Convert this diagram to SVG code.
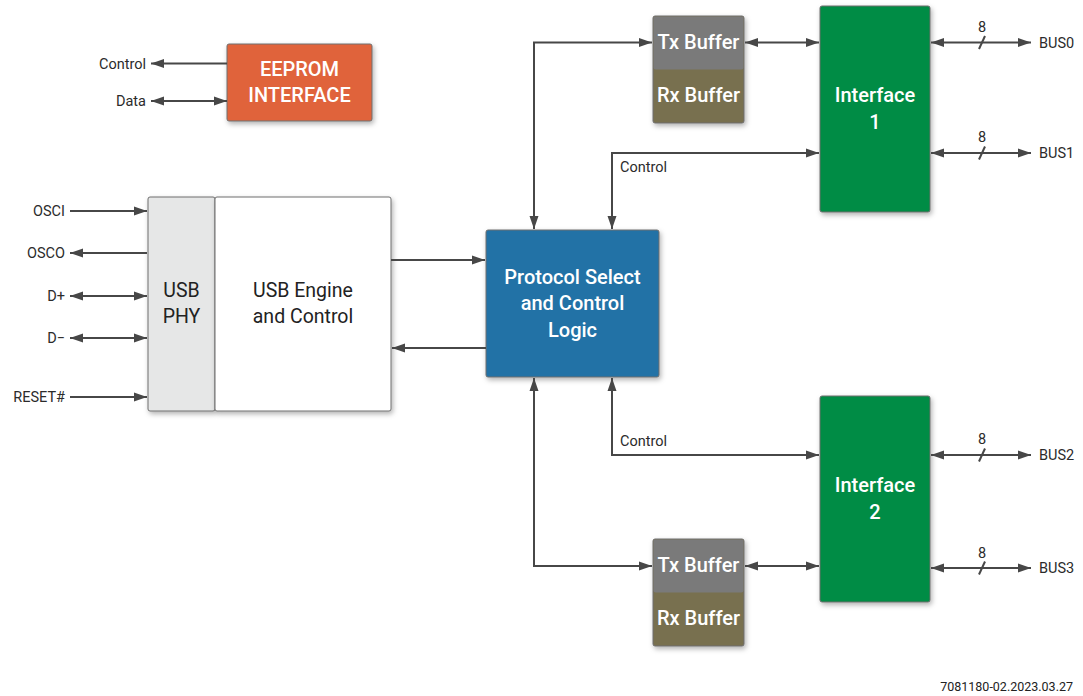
<svg xmlns="http://www.w3.org/2000/svg" width="1083" height="696" viewBox="0 0 1083 696">
  <style>
    .wire { fill: none; stroke: #474747; stroke-width: 2; }
    .lbl { font-family: Roboto, "Liberation Sans", sans-serif; font-size: 14.5px; fill: #2b2b2b; }
    .box { stroke: #6f6f6f; stroke-width: 1; filter: url(#shadow); }
    .btxt { font-family: Roboto, "Liberation Sans", sans-serif; font-size: 20px; font-weight: 500; fill: #ffffff; text-anchor: middle; }
    .dtxt { font-family: Roboto, "Liberation Sans", sans-serif; font-size: 19.5px; fill: #222222; text-anchor: middle; }
    .note { font-family: Roboto, "Liberation Sans", sans-serif; font-size: 12.5px; fill: #222222; }
  </style>
  <defs>
    <filter id="shadow" x="-20%" y="-20%" width="140%" height="140%">
      <feDropShadow dx="1.5" dy="2.5" stdDeviation="2.5" flood-color="#000" flood-opacity="0.3"/>
    </filter>
    <marker id="ah" markerUnits="userSpaceOnUse" markerWidth="14" markerHeight="10" refX="13" refY="5" orient="auto-start-reverse">
      <path d="M0,0.5 L13,5 L0,9.5 z" fill="#474747"/>
    </marker>
  </defs>

  <rect width="1083" height="696" fill="#ffffff"/>

  <!-- EEPROM interface -->
  <g id="eeprom">
    <rect class="box" x="227" y="44" width="145" height="77" rx="2" fill="#E0643A"/>
    <text class="btxt" x="299.5" y="76">EEPROM</text>
    <text class="btxt" x="299.5" y="102">INTERFACE</text>
  </g>

  <!-- USB PHY -->
  <g id="usb-phy">
    <rect class="box" x="148" y="197" width="67" height="214" rx="2" fill="#E6E7E7"/>
    <text class="dtxt" x="181.5" y="297">USB</text>
    <text class="dtxt" x="181.5" y="323">PHY</text>
  </g>

  <!-- USB engine -->
  <g id="usb-engine">
    <rect class="box" x="215" y="197" width="176" height="214" rx="2" fill="#ffffff"/>
    <text class="dtxt" x="303" y="297">USB Engine</text>
    <text class="dtxt" x="303" y="323">and Control</text>
  </g>

  <!-- Protocol select logic -->
  <g id="protocol">
    <rect class="box" x="486" y="230" width="173" height="147" rx="2" fill="#2372A6"/>
    <text class="btxt" x="572.5" y="284">Protocol Select</text>
    <text class="btxt" x="572.5" y="310">and Control</text>
    <text class="btxt" x="572.5" y="337">Logic</text>
  </g>

  <!-- Buffers for interface 1 -->
  <g id="buffers1">
    <rect class="box" x="653" y="16" width="91" height="107" rx="2" fill="#786F50"/>
    <rect x="653.5" y="16.5" width="90" height="53" rx="2" fill="#7A7A7A"/>
    <text class="btxt" x="698.5" y="49">Tx Buffer</text>
    <text class="btxt" x="698.5" y="102">Rx Buffer</text>
  </g>

  <!-- Buffers for interface 2 -->
  <g id="buffers2">
    <rect class="box" x="653" y="539" width="91" height="107" rx="2" fill="#786F50"/>
    <rect x="653.5" y="539.5" width="90" height="53" rx="2" fill="#7A7A7A"/>
    <text class="btxt" x="698.5" y="572">Tx Buffer</text>
    <text class="btxt" x="698.5" y="625">Rx Buffer</text>
  </g>

  <!-- Interface 1 -->
  <g id="interface1">
    <rect class="box" x="820" y="6" width="110" height="206" rx="2" fill="#008C44"/>
    <text class="btxt" x="875" y="102">Interface</text>
    <text class="btxt" x="875" y="129">1</text>
  </g>

  <!-- Interface 2 -->
  <g id="interface2">
    <rect class="box" x="820" y="396" width="110" height="206" rx="2" fill="#008C44"/>
    <text class="btxt" x="875" y="492">Interface</text>
    <text class="btxt" x="875" y="519">2</text>
  </g>

  <!-- Connectors -->
  <g id="connectors">
    <!-- EEPROM signals -->
    <line class="wire" x1="227" y1="63.5" x2="151" y2="63.5" marker-end="url(#ah)"/>
    <line class="wire" x1="151" y1="101" x2="227" y2="101" marker-start="url(#ah)" marker-end="url(#ah)"/>
    <!-- USB PHY pins -->
    <line class="wire" x1="70" y1="211" x2="147" y2="211" marker-end="url(#ah)"/>
    <line class="wire" x1="147" y1="253" x2="70" y2="253" marker-end="url(#ah)"/>
    <line class="wire" x1="70" y1="296" x2="147" y2="296" marker-start="url(#ah)" marker-end="url(#ah)"/>
    <line class="wire" x1="70" y1="338" x2="147" y2="338" marker-start="url(#ah)" marker-end="url(#ah)"/>
    <line class="wire" x1="70" y1="397" x2="147" y2="397" marker-end="url(#ah)"/>
    <!-- engine <-> protocol -->
    <line class="wire" x1="391" y1="260" x2="485" y2="260" marker-end="url(#ah)"/>
    <line class="wire" x1="486" y1="348" x2="392" y2="348" marker-end="url(#ah)"/>
    <!-- protocol <-> Tx buffer 1 -->
    <polyline class="wire" points="534,229 534,42.5 652,42.5" marker-start="url(#ah)" marker-end="url(#ah)"/>
    <!-- control to interface 1 -->
    <polyline class="wire" points="612,229 612,153 819,153" marker-start="url(#ah)" marker-end="url(#ah)"/>
    <!-- Tx buffer 1 <-> interface 1 -->
    <line class="wire" x1="745" y1="42.5" x2="819" y2="42.5" marker-start="url(#ah)" marker-end="url(#ah)"/>
    <!-- protocol <-> Tx buffer 2 -->
    <polyline class="wire" points="534,378 534,566 652,566" marker-start="url(#ah)" marker-end="url(#ah)"/>
    <!-- control to interface 2 -->
    <polyline class="wire" points="612,378 612,455 819,455" marker-start="url(#ah)" marker-end="url(#ah)"/>
    <!-- Tx buffer 2 <-> interface 2 -->
    <line class="wire" x1="745" y1="566" x2="819" y2="566" marker-start="url(#ah)" marker-end="url(#ah)"/>
    <!-- buses -->
    <line class="wire" x1="931" y1="42.5" x2="1031" y2="42.5" marker-start="url(#ah)" marker-end="url(#ah)"/>
    <line class="wire" x1="931" y1="153" x2="1031" y2="153" marker-start="url(#ah)" marker-end="url(#ah)"/>
    <line class="wire" x1="931" y1="455" x2="1031" y2="455" marker-start="url(#ah)" marker-end="url(#ah)"/>
    <line class="wire" x1="931" y1="568" x2="1031" y2="568" marker-start="url(#ah)" marker-end="url(#ah)"/>
    <!-- bus width slashes -->
    <line class="wire" stroke-width="1.5" x1="979" y1="49" x2="985" y2="36"/>
    <line class="wire" stroke-width="1.5" x1="979" y1="159.5" x2="985" y2="146.5"/>
    <line class="wire" stroke-width="1.5" x1="979" y1="461.5" x2="985" y2="448.5"/>
    <line class="wire" stroke-width="1.5" x1="979" y1="574.5" x2="985" y2="561.5"/>
  </g>

  <!-- Signal labels -->
  <g id="labels">
    <text class="lbl" x="146" y="68.5" text-anchor="end">Control</text>
    <text class="lbl" x="146" y="106" text-anchor="end">Data</text>
    <text class="lbl" x="65" y="216" text-anchor="end">OSCI</text>
    <text class="lbl" x="65" y="258" text-anchor="end">OSCO</text>
    <text class="lbl" x="65" y="301" text-anchor="end">D+</text>
    <text class="lbl" x="65" y="343" text-anchor="end">D−</text>
    <text class="lbl" x="65" y="402" text-anchor="end">RESET#</text>
    <text class="lbl" x="620" y="172">Control</text>
    <text class="lbl" x="620" y="446">Control</text>
    <text class="lbl" x="982" y="32" text-anchor="middle">8</text>
    <text class="lbl" x="982" y="142" text-anchor="middle">8</text>
    <text class="lbl" x="982" y="444" text-anchor="middle">8</text>
    <text class="lbl" x="982" y="558" text-anchor="middle">8</text>
    <text class="lbl" x="1039" y="47.5">BUS0</text>
    <text class="lbl" x="1039" y="158">BUS1</text>
    <text class="lbl" x="1039" y="460">BUS2</text>
    <text class="lbl" x="1039" y="573">BUS3</text>
    <text class="note" x="1073" y="691" text-anchor="end">7081180-02.2023.03.27</text>
  </g>
</svg>
